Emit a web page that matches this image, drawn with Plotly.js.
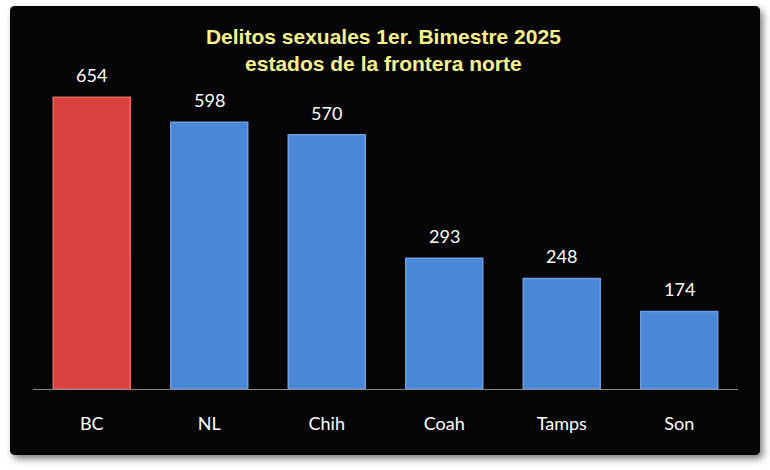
<!DOCTYPE html>
<html>
<head>
<meta charset="utf-8">
<script src="https://cdn.plot.ly/plotly-3.0.1.min.js"></script>
<style>
  html, body { margin: 0; padding: 0; background: #ffffff; width: 770px; height: 470px; overflow: hidden; }
  #frame {
    position: absolute; left: 10px; top: 6px; width: 750px; height: 449px;
    background: #050505; border-radius: 5px;
    box-shadow: 3px 4px 7px rgba(0,0,0,0.5);
    overflow: hidden;
  }
  #chart { width: 750px; height: 449px; }
</style>
</head>
<body>
<div id="frame"><div id="chart"></div></div>
<script>
const categories = ["BC", "NL", "Chih", "Coah", "Tamps", "Son"];
const values = [654, 598, 570, 293, 248, 174];
const barColors = ["#d9423e", "#4a87d6", "#4a87d6", "#4a87d6", "#4a87d6", "#4a87d6"];
const edgeColors = ["#e46a66", "#6c9fe2", "#6c9fe2", "#6c9fe2", "#6c9fe2", "#6c9fe2"];
const titleText = "Delitos sexuales 1er. Bimestre 2025<br>estados de la frontera norte";

const labelFont = { family: "Lato, 'Open Sans', sans-serif", size: 18, color: "#ffffff" };

const trace = {
  type: "bar",
  x: categories,
  y: values,
  marker: { color: barColors, line: { color: edgeColors, width: 1.5 } },
  hoverinfo: "none"
};

const annotations = categories.map((c, i) => ({
  x: c, y: values[i], xref: "x", yref: "y",
  text: String(values[i]), showarrow: false,
  yanchor: "bottom", yshift: 9,
  font: labelFont
}));

const layout = {
  width: 750, height: 449,
  paper_bgcolor: "#050505", plot_bgcolor: "#050505",
  margin: { l: 23, r: 22, t: 53, b: 66 },
  showlegend: false,
  bargap: 0.345,
  title: {
    text: titleText,
    font: { family: "Arial, 'Liberation Sans', sans-serif", size: 21, color: "#f7f28c", weight: "bold" },
    x: 0.497, xref: "paper", xanchor: "center",
    y: 0.915, yref: "container", yanchor: "middle"
  },
  xaxis: {
    showline: true, linecolor: "#8a8a8a", linewidth: 1,
    showgrid: false, zeroline: false, ticks: "",
    tickfont: labelFont, ticklabelstandoff: 18, fixedrange: true
  },
  yaxis: {
    range: [0, 740], visible: false, showgrid: false, zeroline: false, fixedrange: true
  },
  annotations: annotations
};

Plotly.newPlot("chart", [trace], layout, { displayModeBar: false, staticPlot: true });
</script>
</body>
</html>
